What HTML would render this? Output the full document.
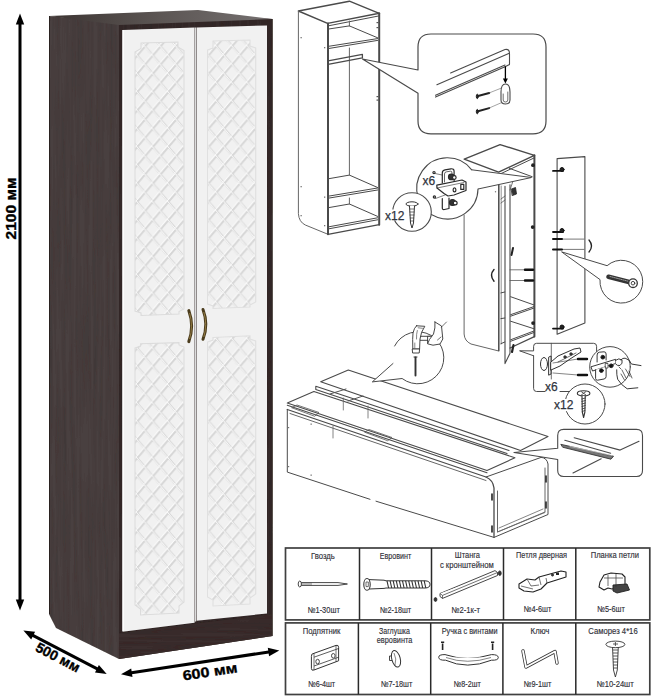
<!DOCTYPE html>
<html><head><meta charset="utf-8">
<style>
html,body{margin:0;padding:0;background:#fff;width:654px;height:700px;overflow:hidden}
svg{display:block;font-family:"Liberation Sans",sans-serif}
</style></head><body>
<svg width="654" height="700" viewBox="0 0 654 700">
<defs>
  <filter id="wood" x="0" y="0" width="100%" height="100%">
    <feTurbulence type="fractalNoise" baseFrequency="0.3 0.01" numOctaves="2" seed="3" result="n"/>
    <feColorMatrix in="n" type="matrix" values="0 0 0 0 0  0 0 0 0 0  0 0 0 0 0  0.6 0 0 0 -0.22" result="a"/>
    <feComposite in="a" in2="SourceGraphic" operator="in" result="ac"/>
    <feFlood flood-color="#221c1b" result="f"/>
    <feComposite in="f" in2="ac" operator="in" result="dk"/>
    <feMerge><feMergeNode in="SourceGraphic"/><feMergeNode in="dk"/></feMerge>
  </filter>
  <filter id="wood2" x="0" y="0" width="100%" height="100%">
    <feTurbulence type="fractalNoise" baseFrequency="0.012 0.35" numOctaves="2" seed="7" result="n"/>
    <feColorMatrix in="n" type="matrix" values="0 0 0 0 0  0 0 0 0 0  0 0 0 0 0  0.6 0 0 0 -0.22" result="a"/>
    <feComposite in="a" in2="SourceGraphic" operator="in" result="ac"/>
    <feFlood flood-color="#221c1b" result="f"/>
    <feComposite in="f" in2="ac" operator="in" result="dk"/>
    <feMerge><feMergeNode in="SourceGraphic"/><feMergeNode in="dk"/></feMerge>
  </filter>
  <filter id="soft" x="-5%" y="-5%" width="110%" height="110%"><feGaussianBlur stdDeviation="0.6"/></filter>
  <linearGradient id="topg" x1="0" y1="0" x2="1" y2="0">
    <stop offset="0" stop-color="#3c3432"/>
    <stop offset="0.5" stop-color="#5c5654"/>
    <stop offset="1" stop-color="#757070"/>
  </linearGradient>
  <pattern id="latL" patternUnits="userSpaceOnUse" width="15.6" height="18.3" x="129.1" y="45.9">
    <path d="M-15.6,-18.3 L0.0,0.0 M0.0,-18.3 L-15.6,0.0 M-15.6,0.0 L0.0,18.3 M0.0,0.0 L-15.6,18.3 M-15.6,18.3 L0.0,36.6 M0.0,18.3 L-15.6,36.6 M0.0,-18.3 L15.6,0.0 M15.6,-18.3 L0.0,0.0 M0.0,0.0 L15.6,18.3 M15.6,0.0 L0.0,18.3 M0.0,18.3 L15.6,36.6 M15.6,18.3 L0.0,36.6 M15.6,-18.3 L31.2,0.0 M31.2,-18.3 L15.6,0.0 M15.6,0.0 L31.2,18.3 M31.2,0.0 L15.6,18.3 M15.6,18.3 L31.2,36.6 M31.2,18.3 L15.6,36.6" stroke="#d6d6d6" stroke-width="2" fill="none" transform="translate(0.4,0.4)"/>
    <path d="M-15.6,-18.3 L0.0,0.0 M0.0,-18.3 L-15.6,0.0 M-15.6,0.0 L0.0,18.3 M0.0,0.0 L-15.6,18.3 M-15.6,18.3 L0.0,36.6 M0.0,18.3 L-15.6,36.6 M0.0,-18.3 L15.6,0.0 M15.6,-18.3 L0.0,0.0 M0.0,0.0 L15.6,18.3 M15.6,0.0 L0.0,18.3 M0.0,18.3 L15.6,36.6 M15.6,18.3 L0.0,36.6 M15.6,-18.3 L31.2,0.0 M31.2,-18.3 L15.6,0.0 M15.6,0.0 L31.2,18.3 M31.2,0.0 L15.6,18.3 M15.6,18.3 L31.2,36.6 M31.2,18.3 L15.6,36.6" stroke="#ffffff" stroke-width="0.9" fill="none" transform="translate(-0.8,-0.6)"/>
  </pattern>
  <pattern id="latR" patternUnits="userSpaceOnUse" width="15.6" height="18.3" x="208.4" y="0">
    <path d="M-15.6,-18.3 L0.0,0.0 M0.0,-18.3 L-15.6,0.0 M-15.6,0.0 L0.0,18.3 M0.0,0.0 L-15.6,18.3 M-15.6,18.3 L0.0,36.6 M0.0,18.3 L-15.6,36.6 M0.0,-18.3 L15.6,0.0 M15.6,-18.3 L0.0,0.0 M0.0,0.0 L15.6,18.3 M15.6,0.0 L0.0,18.3 M0.0,18.3 L15.6,36.6 M15.6,18.3 L0.0,36.6 M15.6,-18.3 L31.2,0.0 M31.2,-18.3 L15.6,0.0 M15.6,0.0 L31.2,18.3 M31.2,0.0 L15.6,18.3 M15.6,18.3 L31.2,36.6 M31.2,18.3 L15.6,36.6" stroke="#d6d6d6" stroke-width="2" fill="none" transform="translate(0.4,0.4)"/>
    <path d="M-15.6,-18.3 L0.0,0.0 M0.0,-18.3 L-15.6,0.0 M-15.6,0.0 L0.0,18.3 M0.0,0.0 L-15.6,18.3 M-15.6,18.3 L0.0,36.6 M0.0,18.3 L-15.6,36.6 M0.0,-18.3 L15.6,0.0 M15.6,-18.3 L0.0,0.0 M0.0,0.0 L15.6,18.3 M15.6,0.0 L0.0,18.3 M0.0,18.3 L15.6,36.6 M15.6,18.3 L0.0,36.6 M15.6,-18.3 L31.2,0.0 M31.2,-18.3 L15.6,0.0 M15.6,0.0 L31.2,18.3 M31.2,0.0 L15.6,18.3 M15.6,18.3 L31.2,36.6 M31.2,18.3 L15.6,36.6" stroke="#ffffff" stroke-width="0.9" fill="none" transform="translate(-0.8,-0.6)"/>
  </pattern>
</defs>

<!-- ===== WARDROBE ===== -->
<g id="wardrobe">
  <polygon points="49,16 119,22.5 119,659 56,628 49,614" fill="#4a413f" filter="url(#wood)"/>
  <polygon points="119,23 200,15 272.8,19 272.8,636 119,659" fill="#342a29" filter="url(#wood)"/>
  <polygon points="49,16 198,10 272,19 119,25" fill="url(#topg)"/>
  <line x1="49.5" y1="16" x2="49.5" y2="614" stroke="#2a2220" stroke-width="1"/>
  <polygon points="119,633 272,614 272,636 119,659" fill="#3a2f2d" filter="url(#wood2)"/>
  <!-- doors -->
  <polygon points="122.5,30 194.6,27.6 194.6,622.7 122.5,631.7" fill="#f1f1f1"/>
  <polygon points="196.6,27.5 267,25.5 267,613.5 196.6,620.7" fill="#f1f1f1"/>
  <line x1="195.6" y1="27.5" x2="195.6" y2="621.5" stroke="#dcdcdc" stroke-width="1.2"/>
  <line x1="123.2" y1="30" x2="123.2" y2="631" stroke="#fdfdfd" stroke-width="1.6"/>
  <g filter="url(#soft)">
  <polygon points="135,52 141,48.5 141,43 178,42 178,47 184,50.5 184,309 179,311.5 179,314 141,315.5 141,313 135,311" fill="url(#latL)" stroke="#dcdcdc" stroke-width="1.1"/>
  <polygon points="135,348 140.5,346 140.5,343.8 179,342.6 179,345 184,347 184,602 179,606 179,613 140.5,615 140.5,609 135,605" fill="url(#latL)" stroke="#dcdcdc" stroke-width="1.1"/>
  <polygon points="207.5,50 213,48 213,41 250,40 250,46 255.7,48 255.7,302 250,305 250,307 213,308.5 213,306 207.5,304" fill="url(#latR)" stroke="#e0e0e0" stroke-width="1.1"/>
  <polygon points="207.5,342 213,340 213,337.5 250,335.8 250,339 255.7,341 255.7,594 250,598 250,604 213,606 213,600 207.5,597" fill="url(#latR)" stroke="#e0e0e0" stroke-width="1.1"/>
  </g>
  <!-- handles -->
  <path d="M188.8,310.6 Q194.5,326.5 188.8,341.6" stroke="#4a3b1c" stroke-width="3" fill="none" stroke-linecap="round"/>
  <path d="M189.6,313 Q193.4,326.5 189.6,339" stroke="#9a8248" stroke-width="0.9" fill="none"/>
  <path d="M203,309.5 Q208.7,324.5 203,339.3" stroke="#4a3b1c" stroke-width="3" fill="none" stroke-linecap="round"/>
  <path d="M203.8,312 Q207.6,324.5 203.8,337" stroke="#9a8248" stroke-width="0.9" fill="none"/>
</g>

<!-- ===== DIMENSIONS ===== -->
<g id="dims" fill="#000">
  <line x1="20.0" y1="22.5" x2="20.0" y2="601.5" stroke="#000" stroke-width="3"/>
  <polygon points="20.0,13.5 15.8,24.5 24.2,24.5"/>
  <polygon points="20.0,610.5 15.8,599.5 24.2,599.5"/>
  <text transform="translate(15.9,239.5) rotate(-90)" font-size="14.5" font-weight="bold" stroke="#000" stroke-width="0.35" textLength="62" lengthAdjust="spacingAndGlyphs">2100 мм</text>
  <line x1="31.4" y1="634.7" x2="98.7" y2="669.7" stroke="#000" stroke-width="3"/>
  <polygon points="23.4,630.5 31.2,639.4 35.1,631.8"/>
  <polygon points="106.7,673.9 95.0,672.6 98.9,665.0"/>
  <text transform="translate(34.4,650.5) rotate(27.5)" font-size="14" font-weight="bold" stroke="#000" stroke-width="0.35" textLength="48" lengthAdjust="spacingAndGlyphs">500 мм</text>
  <line x1="129.9" y1="673.0" x2="270.4" y2="651.7" stroke="#000" stroke-width="3"/>
  <polygon points="121.0,674.3 132.5,676.9 131.2,668.4"/>
  <polygon points="279.3,650.4 269.1,656.3 267.8,647.8"/>
  <text transform="translate(183.5,680.5) rotate(-8.6)" font-size="14" font-weight="bold" stroke="#000" stroke-width="0.35" textLength="55" lengthAdjust="spacingAndGlyphs">600 мм</text>
</g>

<!-- ===== LINE ART ===== -->

<g id="art" fill="none" stroke="#4a4a4a" stroke-width="1" stroke-linejoin="round" stroke-linecap="round">
  <!-- cabinet 1 -->
  <path d="M298.4,11 L349.4,1.2 L379.2,13.3 L327.6,23.4 Z" stroke-width="1.4"/>
  <path d="M328.5,25.8 L378.5,16"/>
  <path d="M298.4,11 L298.4,213.7 Q299,222 305.3,225 L328,234.3" stroke="#666"/>
  <path d="M328,23.4 L328,234.3" stroke-width="2"/>
  <path d="M379.2,13.3 L379.2,224.7" stroke-width="2"/>
  <path d="M328,234.3 L379.2,224.7" stroke-width="1.3"/>
  <path d="M349.4,21 V26 M349.4,48 V175.1 M349.4,198 V204" stroke="#666"/>
  <path d="M329.4,28.9 L349.4,25.9 L377.6,37.8"/>
  <path d="M329.4,46.2 L377.6,38.6 M329.4,48.4 L377.6,40.4"/>
  <path d="M329.4,60.6 L362.4,54.4 L362.4,57.9 L329.4,64.1" stroke-width="1.3"/>
  <path d="M329.4,178.6 L349.4,175.1 L377.6,187.5"/>
  <path d="M329.4,196 L377.6,188 M329.4,198 L377.6,190"/>
  <path d="M329.4,207.5 L349.4,204 L377.6,216.4"/>
  <path d="M329.4,226.7 L377.6,217.8 M329.4,228.7 L377.6,219.8"/>
  <g fill="#777" stroke="none">
    <rect x="300.5" y="37" width="1.3" height="1.3"/><rect x="324" y="47" width="1.3" height="1.3"/>
    <rect x="300.5" y="186" width="1.3" height="1.3"/><rect x="324" y="196.5" width="1.3" height="1.3"/>
    <rect x="300.5" y="215" width="1.3" height="1.3"/><rect x="324" y="225" width="1.3" height="1.3"/>
    <rect x="376.5" y="22" width="2" height="1.2" fill="#555"/><rect x="376.5" y="27" width="2" height="1.2" fill="#555"/>
    <rect x="376.5" y="96" width="2" height="1.2" fill="#555"/><rect x="376.5" y="99.5" width="2" height="1.2" fill="#555"/>
  </g>
  <!-- bubble 1 -->
  <path d="M418,93.3 V121 Q418,133.8 431,133.8 H533 Q546,133.8 546,121 V47 Q546,34 533,34 H431 Q418,34 418,47 V70 L362.5,59 L418,93.3" fill="#fff" stroke-width="1.2"/>
  <path d="M450.6,73 L505,49.5 Q509.5,48.5 509.5,53.5 V64.5 L505,66.8" stroke-width="1.1"/>
  <path d="M436.9,84.7 L509.3,53.3" stroke-width="1.1"/>
  <path d="M435.5,97.1 L505,66.8 M435.5,95.2 L505,65" stroke-width="1.1"/>
  <path d="M505.4,66.8 V80" stroke="#000" stroke-width="1.3"/>
  <polygon points="502.9,78.5 507.9,78.5 505.4,83.5" fill="#000" stroke="none"/>
  <path d="M501,92 Q501,84 505.5,84 Q510,84 510,92 V100 Q510,104 505.5,104 Q501,104 501,100 Z" fill="#fff" stroke-width="1.1"/>
  <path d="M503.2,94 V100 Q503.2,102 505.5,102 Q507.8,102 507.8,100 V92" stroke-width="0.8"/>
  <path d="M478,96 L489.2,93 M478,111.2 L489.2,108.1" stroke="#222" stroke-width="2"/>
  <ellipse cx="477.3" cy="96.4" rx="1" ry="2.2" fill="#222" stroke="#222"/>
  <ellipse cx="477.3" cy="111.6" rx="1" ry="2.2" fill="#222" stroke="#222"/>
  <path d="M489,93 L501.6,88 M489,108.1 L501.6,102.6" stroke="#666" stroke-width="0.6"/>
  <!-- cabinet 2 -->
  <path d="M464.1,215 V334 Q464.5,341 471,344 L498.8,351" stroke="#666"/>
  <path d="M498.8,184 V350.5" stroke-width="1.5"/>
  <path d="M501.2,186 V344" stroke="#777" stroke-width="0.8"/>
  <path d="M534.4,155.3 V336.6" stroke-width="2"/>
  <path d="M510,348 L534.4,336.6" stroke-width="1.3"/>
  <path d="M505,186.3 V363.6 L510,353.3 V184.7" stroke-width="1.1"/>
  <path d="M510.6,296.7 L534.4,305.1 M510.6,314.7 L534.4,306.4 M510.6,316.2 L534.4,307.9"/>
  <path d="M510.6,321.2 L534.4,328.9 M510.6,339.8 L534.4,330.8 M510.6,341.3 L534.4,332.3"/>
  <path d="M500.9,318.6 L504.8,318 M500.9,343.7 L504.8,342 M500.9,292.9 L504.8,292"/>
  <path d="M510,269.8 H526 M510,280.5 H526" stroke="#555" stroke-width="0.8"/>
  <path d="M525,269.8 H533 M525,280.5 H533" stroke="#111" stroke-width="2.4"/>
  <path d="M494,269.5 Q489,275 494,281.3" stroke="#222" stroke-width="1.4"/>
  <path d="M513,248 L511.5,255" stroke="#222" stroke-width="2"/>
  <path d="M513.5,345 L512,352" stroke="#222" stroke-width="2.2"/>
  <circle cx="532.7" cy="227.1" r="1.9" fill="#222" stroke="none"/>
  <path d="M511.5,189 L515.5,187.5 L516.5,194 L512.5,195.5 Z" fill="#333" stroke="#222" stroke-width="0.8"/>
  <path d="M501,199 L505,196 M501,203 L505,200 M510,190 L513,181" stroke="#555" stroke-width="0.8"/>
  <circle cx="495.5" cy="191.8" r="0.7" fill="#777" stroke="none"/>
  <circle cx="533.1" cy="323.1" r="1.9" fill="#222" stroke="none"/>
  <circle cx="533" cy="165.2" r="1.9" fill="#222" stroke="none"/>
  <path d="M464.2,159.1 L500.1,144.6 L534.4,155.3 L498.6,172.1 Z" stroke-width="1.4"/>
  <path d="M499.3,174.4 L534.4,157.8"/>
  <path d="M509.3,168.3 L532.2,176.7"/>
  <!-- pointer to hinge bubble 2 -->
  <path d="M471.7,169.8 L531.5,177.5 L478,189" fill="#fff"/>
  <!-- hinge bubble (circle with pointer) -->
  <path d="M471.7,169.8 A30.6,30.6 0 1 0 478,189" fill="#fff" stroke-width="1.1"/>
  <!-- screw bubble -->
  <circle cx="412" cy="212" r="19.3" fill="#fff" stroke-width="1.1"/>
  <!-- hinge drawing in bubble -->
  <g stroke="#2a2a2a" stroke-width="1.2">
    <path d="M442.3,183 V173 Q442.3,170.2 445,169.8 L451,168.8 Q454.1,168.5 454.1,171.5 V182" fill="#fff"/>
    <path d="M444.5,182 V174 Q444.5,172 446.5,171.8 L450.5,171.2 Q452,171 452,173 V176" fill="none" stroke-width="0.7"/>
    <path d="M436.8,185.2 L462,180 L466,182 L466,190.5 L454,195 L448,196 L444,193.5 L437,188 Z" fill="#fff"/>
    <path d="M437,188 L464,182.5" stroke-width="0.6"/>
    <path d="M442.3,198.5 V208 Q442.3,210 444.5,209.5 L449,208.5 L449,198" fill="#fff"/>
    <circle cx="451.3" cy="176.9" r="2.8" fill="#333"/>
    <circle cx="454.3" cy="177.5" r="1.8" fill="#fff"/>
    <circle cx="452.5" cy="202.5" r="3" fill="#333"/>
    <circle cx="455.2" cy="203" r="1.9" fill="#fff"/>
    <ellipse cx="454.5" cy="189.9" rx="1.4" ry="2"/>
    <rect x="460.8" y="184.4" width="3" height="5"/>
    <circle cx="434" cy="172.6" r="1.1"/><circle cx="434.4" cy="197" r="1.1"/>
    <path d="M435,173.5 L442,175 M435.5,198.5 L445,195" stroke-width="0.6"/>
  </g>
  <g stroke="#333">
    <ellipse cx="412" cy="204" rx="6" ry="2.2" fill="#fff"/>
    <path d="M409.5,206 L410.5,223 L412,228 L413.5,223 L414.5,206" fill="#fff"/>
    <path d="M410,209 H414 M410,212 H414 M410,215 H414 M410.3,218 H413.7 M410.5,221 H413.5" stroke-width="0.7"/>
  </g>
  <rect x="385" y="209.5" width="10" height="11" fill="#fff" stroke="none"/>
  <text x="422.5" y="184.5" font-size="12" fill="#30343e" stroke="#30343e" stroke-width="0.25">x6</text>
  <text x="385" y="219.5" font-size="12" fill="#30343e" stroke="#30343e" stroke-width="0.25">x12</text>
  <!-- separate door panel -->
  <path d="M557.1,158.6 L584.9,156.6 V322.9 L557.1,334.3 Z" stroke-width="1.1"/>
  <path d="M560,239.1 H584 M560,249.4 H584" stroke="#555" stroke-width="0.8"/>
  <path d="M553,239.1 H562 M553,249.4 H562" stroke="#111" stroke-width="2"/>
  <g fill="#222" stroke="#111">
    <path d="M553,170.9 H563" stroke-width="1.8"/><circle cx="562" cy="169.5" r="2" />
    <path d="M553,232 H563" stroke-width="1.8"/><circle cx="562" cy="230.5" r="2" />
    <path d="M553,328.6 H563" stroke-width="1.8"/><circle cx="562" cy="327" r="2" />
  </g>
  <path d="M589,240 Q594,246 589,252" stroke="#222" stroke-width="1.3"/>
  <!-- screw bubble right -->
  <path d="M562,252 L607.1,265.7 A21.4,21.4 0 1 1 600,280 Z" fill="#fff" stroke-width="1"/>
  <path d="M608.5,276.8 L629,282" stroke="#333" stroke-width="4.6"/>
  <path d="M610,276.5 L628,281.2" stroke="#999" stroke-width="1" stroke-dasharray="1.2 1"/>
  <circle cx="633" cy="283.2" r="4.3" fill="#fff" stroke="#333" stroke-width="1.3"/>
  <circle cx="633" cy="283.2" r="1.8" fill="none" stroke="#333" stroke-width="0.9"/>
  <!-- horizontal cabinet -->
  <path d="M287.3,409.5 V472.1 L370,499.3 M376,501.2 L494,537.4 L548,514.5 V464 Q547,458 541.4,457.3" stroke="#4a4a4a" stroke-width="1"/>
  <path d="M287.3,409.5 L486,477 Q493,480 494,488 V537.4" stroke-width="1.3"/>
  <path d="M497.5,491 V532 L545,512 V468" stroke="#666"/>
  <path d="M497.5,532 L545,512.5 M499,528 L543,509" stroke="#666" stroke-width="0.8"/>
  <path d="M486,477 L541.4,457.3"/>
  <path d="M290,413.5 L486,480.5" stroke="#666"/>
  <path d="M287.3,403.1 L313.9,391.6 L514.9,457.8 L487,470.6 Z M287.3,405.3 L487,472.8" fill="#fff" stroke-width="1.1"/>
  <path d="M315.8,386.3 L509,450.5 M315.8,389.5 L507,453.5 M315.8,386.3 V389.5" stroke-width="1.1"/>
  <path d="M320.7,381.7 L348.3,370.1 L548,436.6 L520.5,450.5 Z" fill="#fff" stroke-width="1.1"/>
  <path d="M292,407.5 L297,405 L319,412.5 L315,416 Z M365,432 L369,429.5 L392,437.5 L388,440.5 Z" stroke="#555" stroke-width="0.8"/>
  <path d="M343.3,398 V410 M368,406 V418 M333,426 V438" stroke="#666" stroke-width="0.8"/>
  <path d="M330,394 L346,389 M348,401 L363,396" stroke="#555"/>
  <g fill="#777" stroke="none">
    <rect x="310.5" y="423.5" width="1.3" height="1.3"/><rect x="310.5" y="474.5" width="1.3" height="1.3"/>
    <rect x="288" y="427" width="1.2" height="1.2"/><rect x="288" y="466" width="1.2" height="1.2"/>
  </g>
  <path d="M492,494 V500 M492,526 V532 M546,476 V482 M546,502 V508" stroke="#222" stroke-width="1.6"/>
  <!-- hammer bubble -->
  <path d="M394.6,346 A26,26 0 1 1 402.1,378.5 L372.3,381.9 L393,363.5" fill="#fff" stroke-width="1"/>
  <g stroke="#333" stroke-width="0.9" fill="#fff" stroke-linejoin="round">
    <path d="M420,336.3 H430 V340.3 H420 Z"/>
    <path d="M416.5,325.8 L424.8,326.3 Q420.8,332 420,339 L419.6,349 L412.8,349 Q412.4,338 413,333 Q414,328 416.5,325.8 Z"/>
    <path d="M418.2,327.8 L422.5,328.3 M417.3,330.5 Q416.3,334 416.5,339 M414.8,343 V348" stroke-width="0.6"/>
    <path d="M412.6,349 H419.6 L419.2,353 H413 Z"/>
    <path d="M428,336.3 H433.6 V343.5 H428 Z"/>
    <path d="M435,322 L441.5,326 L442.8,339 L440,344 L433,345.2 L427.6,343.8 L429.5,339.5 L433.5,334 Q435.5,328 435,322 Z"/>
    <path d="M441.5,327 L446.5,322 M437.5,340 L441,337" stroke-width="0.7"/>
    <path d="M415.5,357.5 V375.5" stroke-width="1.9"/>
    <path d="M414,357 H417" stroke-width="1"/>
  </g>
  <!-- corner bubble -->
  <path d="M557.7,448.2 V435.4 Q557.7,429.4 563.7,429.4 H636.5 Q642.5,429.4 642.5,435.4 V470.5 Q642.5,476.5 636.5,476.5 H563.7 Q557.7,476.5 557.7,470.5 V459.5 L514,452.5 Z" fill="#fff" stroke-width="1.1"/>
  <path d="M574.2,437.7 L620.1,450.1 L639,441.2 M564.8,440.3 L610.7,453.2 M573,473 L601.2,458.8" stroke-width="1.1"/>
  <path d="M561.2,444.4 L613.5,456.2 L611,459.2 L563,447.3 Z" fill="#777" stroke="#333" stroke-width="0.9"/>
  <path d="M570,446.5 L612,455.5" stroke="#eee" stroke-width="0.6"/>
  <!-- hinge box lower -->
  <path d="M533.6,355.8 V388.5 Q533.6,391.5 536.6,391.5 H545 M560,391.5 H575 M596.6,375 V346.3 Q596.6,343.3 593.6,343.3 H536.6 Q533.6,343.3 533.6,346.3 V350.9 L519.6,350.8 L533.6,355.8" fill="#fff" stroke-width="1"/>
  <path d="M551.3,343.3 V379" stroke-width="0.8"/>
  <g stroke="#333">
    <ellipse cx="544" cy="364" rx="3.5" ry="6.5" fill="#fff"/>
    <path d="M549,357 L551,356 L551,374 L549,375 Z" fill="#fff"/>
    <path d="M551,362 L558,356 L574,349 L580,348 L581,352 L570,359 L560,366 L551,370 Z" fill="#fff"/>
    <path d="M558,362 L576,353" stroke-width="0.7"/>
    <circle cx="565" cy="357" r="1.2" fill="#333"/><circle cx="571" cy="354" r="1.2" fill="#333"/>
    <path d="M553,363 L578,359 M553,373 L578,375" stroke-width="0.6"/>
    <path d="M578,359 H587 M578,375 H587" stroke="#111" stroke-width="2.4"/>
  </g>
  <text x="545" y="390.7" font-size="12" fill="#30343e" stroke="#30343e" stroke-width="0.25">x6</text>
  <circle cx="610" cy="366.9" r="20.3" fill="#fff" stroke-width="1"/>
  <g stroke="#222" stroke-width="0.9">
    <path d="M597.1,362 V355 Q597.1,352.4 599.5,352.2 L604,351.8 Q606.1,351.8 606.1,354 V360" fill="#fff"/>
    <circle cx="602.8" cy="357.2" r="1.9" fill="#111"/>
    <path d="M591.3,366.7 L615.6,359.3 L615.6,363.5 L592.9,370.9 Z" fill="#fff"/>
    <path d="M595.6,369.8 V378.5 Q595.6,380.4 597.6,380.2 L604,379 Q606.1,378.6 606.1,376.5 V366.5" fill="#fff"/>
    <circle cx="601.4" cy="370.6" r="1.9" fill="#111"/>
    <circle cx="611.2" cy="365.8" r="1.9" fill="#111"/>
    <path d="M605.6,363.5 H608 V368 H605.6 Z" fill="#fff" stroke-width="0.7"/>
    <path d="M615.6,360.3 Q619,357.5 622,360 Q623,363.5 620,365.5 Q617,366 615.6,364" fill="#fff"/>
    <path d="M620.9,359.8 Q623,357.8 625.1,358.2 L629.3,360.3 L631.4,364 L641,365.6"/>
    <path d="M616.7,369.8 Q616.5,375 617.7,379.3 Q621,385 627.2,388.8 L637.8,387.8"/>
    <path d="M622,370 L626,378 M625.5,369 L630,376.5 M629,371 L632,378 M621,374 L624.5,380" stroke-width="0.7"/>
    <path d="M619,367 L621,369" stroke-width="0.7"/>
  </g>
  <circle cx="585" cy="404" r="20" fill="#fff" stroke-width="1"/>
  <g stroke="#333">
    <ellipse cx="583.6" cy="393.3" rx="6.3" ry="2.6" fill="#fff" stroke-width="1.1"/>
    <path d="M581.5,391.8 L585.7,394.8 M585.7,391.8 L581.5,394.8" stroke-width="0.8"/>
    <path d="M582,396 L582.3,412 L583.6,417.5 L584.9,412 L585.2,396" fill="#fff" stroke-width="1.1"/>
    <path d="M581.8,399 L585.4,398 M581.8,401.5 L585.4,400.5 M581.8,404 L585.4,403 M581.9,406.5 L585.3,405.5 M582,409 L585.2,408 M582.2,411.5 L585,410.5" stroke-width="0.8"/>
  </g>
  <rect x="553" y="399" width="16" height="12" fill="#fff" stroke="none"/>
  <text x="554" y="409" font-size="12" fill="#30343e" stroke="#30343e" stroke-width="0.25">x12</text>
</g>


<!-- ===== PARTS TABLE ===== -->

<g id="table">
  <g fill="none" stroke="#404040">
    <rect x="285.5" y="548" width="364.3" height="71.9" stroke-width="1.7"/>
    <rect x="285.5" y="622.9" width="364.3" height="71.6" stroke-width="1.7"/>
    <path d="M359.5,548 V619.9 M431.5,548 V619.9 M503.5,548 V619.9 M575.8,548 V619.9" stroke="#2a2a2a" stroke-width="1.5"/>
    <path d="M358.4,622.9 V694.5 M430.7,622.9 V694.5 M502.9,622.9 V694.5 M575.8,622.9 V694.5" stroke="#2a2a2a" stroke-width="1.5"/>
  </g>
  <g font-size="8.8" fill="#303038" text-anchor="start" stroke="#303038" stroke-width="0.15">
    <text x="311" y="558.6" textLength="23.8" lengthAdjust="spacingAndGlyphs">Гвоздь</text>
    <text x="379.8" y="558.8" textLength="31.4" lengthAdjust="spacingAndGlyphs">Евровинт</text>
    <text x="454.8" y="558.3" textLength="25.2" lengthAdjust="spacingAndGlyphs">Штанга</text>
    <text x="439.9" y="567.9" textLength="53.9" lengthAdjust="spacingAndGlyphs">с кронштейном</text>
    <text x="516" y="558" textLength="51.1" lengthAdjust="spacingAndGlyphs">Петля дверная</text>
    <text x="590.7" y="558" textLength="48.2" lengthAdjust="spacingAndGlyphs">Планка петли</text>
    <text x="307.5" y="612.5" textLength="32.3" lengthAdjust="spacingAndGlyphs">№1-30шт</text>
    <text x="379.8" y="612.7" textLength="31.4" lengthAdjust="spacingAndGlyphs">№2-18шт</text>
    <text x="451.3" y="612.5" textLength="28.7" lengthAdjust="spacingAndGlyphs">№2-1к-т</text>
    <text x="523.5" y="612.1" textLength="27.8" lengthAdjust="spacingAndGlyphs">№4-6шт</text>
    <text x="597" y="612.1" textLength="27.8" lengthAdjust="spacingAndGlyphs">№5-6шт</text>
    <text x="302.7" y="633.8" textLength="37.7" lengthAdjust="spacingAndGlyphs">Подпятник</text>
    <text x="379" y="633.8" textLength="31" lengthAdjust="spacingAndGlyphs">Заглушка</text>
    <text x="376.8" y="643.4" textLength="35.5" lengthAdjust="spacingAndGlyphs">евровинта</text>
    <text x="441.7" y="633.8" textLength="56" lengthAdjust="spacingAndGlyphs">Ручка с винтами</text>
    <text x="530.6" y="633.8" textLength="18.8" lengthAdjust="spacingAndGlyphs">Ключ</text>
    <text x="588.3" y="633.8" textLength="49.4" lengthAdjust="spacingAndGlyphs">Саморез 4*16</text>
    <text x="307.9" y="687.4" textLength="27.3" lengthAdjust="spacingAndGlyphs">№6-4шт</text>
    <text x="380.7" y="687" textLength="31.6" lengthAdjust="spacingAndGlyphs">№7-18шт</text>
    <text x="453.6" y="687" textLength="27.1" lengthAdjust="spacingAndGlyphs">№8-2шт</text>
    <text x="523.5" y="687.3" textLength="27.8" lengthAdjust="spacingAndGlyphs">№9-1шт</text>
    <text x="596.5" y="687.3" textLength="37.2" lengthAdjust="spacingAndGlyphs">№10-24шт</text>
  </g>
  <g fill="#fff" stroke="#333" stroke-width="0.9" stroke-linejoin="round">
    <!-- nail -->
    <path d="M301,582.6 H338 L347.4,584 L338,585.4 H301 Z"/>
    <ellipse cx="299.8" cy="584" rx="1.6" ry="3"/>
    <path d="M303,582.8 V585.2 M305,582.8 V585.2 M307,582.8 V585.2 M309,582.8 V585.2 M311,582.8 V585.2" stroke-width="0.6"/>
    <!-- euro screw -->
    <path d="M369,579.6 L384,580.2 L386,580.8 H425 Q430,581 430,584.4 Q430,588 425,588 H386 L384,588.4 L369,589 Z" stroke-width="1"/>
    <path d="M387.0,580.8 L388.6,588 M390.1,580.8 L391.7,588 M393.2,580.8 L394.8,588 M396.3,580.8 L397.9,588 M399.4,580.8 L401.0,588 M402.5,580.8 L404.1,588 M405.6,580.8 L407.2,588 M408.7,580.8 L410.3,588 M411.8,580.8 L413.4,588 M414.9,580.8 L416.5,588 M418.0,580.8 L419.6,588 M421.1,580.8 L422.7,588 M424.2,580.8 L425.8,588" stroke-width="1.1" stroke="#333"/>
    <ellipse cx="367" cy="584.4" rx="3.2" ry="5.9" stroke-width="1.1"/>
    <path d="M366,582 L368.3,582 L368.3,586.6 L366,586.6 Z" stroke-width="0.7"/>
    <!-- rod -->
    <path d="M440,593.5 L495,570.6 L497.5,572.5 L497.5,575.5 L442.5,598.4 L440,596.5 Z"/>
    <path d="M440,593.5 L442.5,595.4 L497.5,572.5 M442.5,595.4 V598.4" stroke-width="0.7"/>
    <ellipse cx="435.5" cy="599.5" rx="1.4" ry="2" fill="#333"/>
    <ellipse cx="499.8" cy="573.2" rx="1.4" ry="2.3" fill="#333"/>
    <!-- hinge -->
    <path d="M519,584 L527,579 L535,580 L539,577 L561,571 L566,572 L566,577 L547,583 L541,589 L533,592 L524,591 L519,588 Z" stroke="#222" stroke-width="1.1"/>
    <path d="M527,579 L531,586 L539,585 M539,577 L541,585 M547,583 L546,578 M521,586 L533,589" stroke-width="0.7"/>
    <circle cx="552.5" cy="575" r="1.1" fill="#222"/><rect x="556" y="572.5" width="3" height="2.5" fill="#222" stroke="none"/>
    <!-- mounting plate -->
    <path d="M600,582 L604,575 L611,573 L622,574 L625,577 L625,585 L612,589 L608,588 L604,590 L599,587 Z" stroke="#222" stroke-width="1.1"/>
    <path d="M613,585 L627,584 L629.5,590 L617,593 L613,591 Z" fill="#444" stroke="#222"/>
    <path d="M604,578 L623,578 M608,575 V586 M616,573.5 V587" stroke-width="0.7"/>
    <!-- podpyatnik -->
    <path d="M311.4,656.5 Q311,653.5 314,653.3 L336,645.4 Q338.6,644.6 338.6,647.3 L338.6,660.8 L314,670 Q311.4,671 311.4,668.5 Z" stroke-width="1"/>
    <path d="M314,653.3 L314,670 M336,645.4 L336,661.8" stroke-width="0.7"/>
    <path d="M314,657.2 L338.6,648.5 M314,666 L338.6,657.2" stroke-width="0.8"/>
    <ellipse cx="317.6" cy="661.6" rx="1.8" ry="2.3"/>
    <ellipse cx="333.3" cy="655.8" rx="1.8" ry="2.3"/>
    <!-- zaglushka -->
    <rect x="389.5" y="656" width="3.5" height="4.5" stroke-width="0.9"/>
    <ellipse cx="396" cy="658.8" rx="4.2" ry="8.5" transform="rotate(-15 396 658.8)" stroke-width="1"/>
    <path d="M394,653 Q397,659 395,665" stroke-width="0.6"/>
    <!-- handle with screws -->
    <path d="M445,654.6 Q438.5,654.5 438.7,657.4 Q439,660.5 445.6,660.2 Q467,670 491.5,660.2 Q498.4,660.5 498.3,657.4 Q498,654.5 491.5,654.6 Q467,662 445,654.6 Z" stroke-width="1"/>
    <path d="M446,657.5 Q467,665 491,657.5" stroke-width="0.6"/>
    <path d="M442.6,643.5 V650 M492.6,643.5 V650" stroke="#222" stroke-width="1.6"/>
    <path d="M441,642.2 H444.2 M491,642.2 H494.2" stroke="#222" stroke-width="1.4"/>
    <!-- key -->
    <path d="M523,651 L526,667 L555,651.5 L557,663" stroke="#333" stroke-width="3.4" fill="none" stroke-linecap="round" stroke-linejoin="round"/>
    <path d="M523,651 L526,667 L555,651.5 L557,663" stroke="#fff" stroke-width="1.8" fill="none" stroke-linecap="round" stroke-linejoin="round"/>
    <!-- self tapping screw -->
    <path d="M612.5,647 L613.5,670 L615.4,677 L617.3,670 L618.3,647 Z"/>
    <ellipse cx="615.4" cy="644.4" rx="9.5" ry="3.3"/>
    <path d="M613,650 H618 M613,653 H618 M613,656 H618 M613,659 H618 M613,662 H618 M613.3,665 H617.7 M613.5,668 H617.3" stroke-width="0.8"/>
    <path d="M613,644 L618,644 M615.4,642 V646" stroke-width="0.8"/>
  </g>
</g>

</svg>
</body></html>
